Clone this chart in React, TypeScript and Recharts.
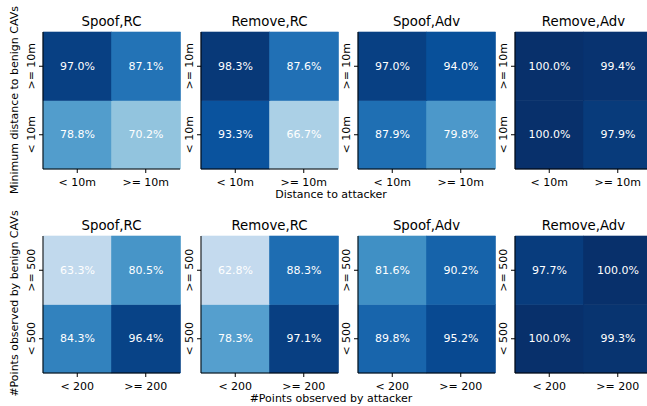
import React from "react";
import { BarChart, Bar, XAxis, YAxis, Cell, LabelList } from "recharts";

// ---------- data ----------
const topTitles = ["Spoof,RC", "Remove,RC", "Spoof,Adv", "Remove,Adv"];
const bottomTitles = ["Spoof,RC", "Remove,RC", "Spoof,Adv", "Remove,Adv"];

const topXTicks = ["< 10m", ">= 10m"];
const topYTicks = ["< 10m", ">= 10m"]; // bottom row first, top row second
const bottomXTicks = ["< 200", ">= 200"];
const bottomYTicks = ["< 500", ">= 500"];

// values per panel: [row "<" (bottom), row ">=" (top)] x [col0, col1]
const topSpoofRC = { low: [78.8, 70.2], high: [97.0, 87.1] };
const topRemoveRC = { low: [93.3, 66.7], high: [98.3, 87.6] };
const topSpoofAdv = { low: [87.9, 79.8], high: [97.0, 94.0] };
const topRemoveAdv = { low: [100.0, 97.9], high: [100.0, 99.4] };

const botSpoofRC = { low: [84.3, 96.4], high: [63.3, 80.5] };
const botRemoveRC = { low: [78.3, 97.1], high: [62.8, 88.3] };
const botSpoofAdv = { low: [89.8, 95.2], high: [81.6, 90.2] };
const botRemoveAdv = { low: [100.0, 99.3], high: [97.7, 100.0] };

const topPanels = [topSpoofRC, topRemoveRC, topSpoofAdv, topRemoveAdv];
const bottomPanels = [botSpoofRC, botRemoveRC, botSpoofAdv, botRemoveAdv];

const topXLabel = "Distance to attacker";
const bottomXLabel = "#Points observed by attacker";
const topYLabel = "Minimum distance to benign CAVs";
const bottomYLabel = "#Points observed by benign CAVs";

// ---------- layout ----------
const FONT = "DejaVu Sans";
const PLOT_LEFTS = [43, 201, 358, 515];
const PLOT_TOPS = [32, 236];
const PW = 137;
const PH = 137;
const ML = 43;
const MT = 32;
const MB = 30;
const MR = 3;
const VMIN = 50;
const VMAX = 100;

const BLUES = ["#f7fbff", "#deebf7", "#c6dbef", "#9ecae1", "#6baed6", "#4292c6", "#2171b5", "#08519c", "#08306b"];
function hexToRgb(h: string) {
  return [parseInt(h.slice(1, 3), 16), parseInt(h.slice(3, 5), 16), parseInt(h.slice(5, 7), 16)];
}
function blues(v: number) {
  let t = (v - VMIN) / (VMAX - VMIN);
  t = Math.max(0, Math.min(1, t));
  const pos = t * (BLUES.length - 1);
  const i = Math.min(BLUES.length - 2, Math.floor(pos));
  const f = pos - i;
  const a = hexToRgb(BLUES[i]);
  const b = hexToRgb(BLUES[i + 1]);
  const c = a.map((x, k) => Math.round(x + (b[k] - x) * f));
  return `rgb(${c[0]},${c[1]},${c[2]})`;
}

const XTick = (props: any) => {
  const { x, y, payload } = props;
  return (
    <text x={x} y={y} dy="0.71em" textAnchor="middle" fontSize={11} fontFamily={FONT} fill="#000">
      {payload.value}
    </text>
  );
};

const makeYTick = (labels: string[]) => (props: any) => {
  const { x, y, payload } = props;
  const idx = payload.value < 1 ? 0 : 1;
  return (
    <text x={x} y={y} transform={`rotate(-90, ${x}, ${y})`} textAnchor="middle" fontSize={11} fontFamily={FONT} fill="#000">
      {labels[idx]}
    </text>
  );
};

const CellLabel = (props: any) => {
  const { x, y, width, height, value } = props;
  return (
    <text
      x={x + width / 2}
      y={y + height / 2}
      textAnchor="middle"
      dominantBaseline="central"
      fontSize={11}
      fontFamily={FONT}
      fill="#fff"
    >
      {Number(value).toFixed(1)}%
    </text>
  );
};

function Panel({ panel, xTicks, yTicks, left, top }: any) {
  const data = xTicks.map((xt: string, i: number) => ({
    x: xt,
    lo: 1,
    hi: 1,
    loV: panel.low[i],
    hiV: panel.high[i],
  }));
  const YT = makeYTick(yTicks);
  return (
    <div style={{ position: "absolute", left: left - ML, top: top - MT }}>
      <BarChart
        width={ML + PW + MR}
        height={MT + PH + MB}
        data={data}
        margin={{ top: MT, right: MR, bottom: 0, left: 0 }}
        barCategoryGap={0}
        barGap={0}
      >
        <XAxis
          dataKey="x"
          type="category"
          height={MB}
          tickSize={4}
          tickMargin={5}
          tick={<XTick />}
          stroke="#000"
          interval={0}
        />
        <XAxis xAxisId="top" orientation="top" dataKey="x" height={0} tick={false} tickLine={false} stroke="#000" />
        <YAxis
          type="number"
          domain={[0, 2]}
          ticks={[0.5, 1.5]}
          width={ML}
          tickSize={4}
          tickMargin={4}
          tick={<YT />}
          stroke="#000"
          interval={0}
        />
        <YAxis yAxisId="right" orientation="right" type="number" domain={[0, 2]} width={0} tick={false} tickLine={false} stroke="#000" />
        <Bar dataKey="lo" stackId="s" isAnimationActive={false}>
          {data.map((d: any, i: number) => (
            <Cell key={i} fill={blues(d.loV)} stroke={blues(d.loV)} strokeWidth={0.6} />
          ))}
          <LabelList dataKey="loV" content={<CellLabel />} />
        </Bar>
        <Bar dataKey="hi" stackId="s" isAnimationActive={false}>
          {data.map((d: any, i: number) => (
            <Cell key={i} fill={blues(d.hiV)} stroke={blues(d.hiV)} strokeWidth={0.6} />
          ))}
          <LabelList dataKey="hiV" content={<CellLabel />} />
        </Bar>
        <XAxis xAxisId="top2" orientation="top" dataKey="x" height={0} tick={false} tickLine={false} stroke="#000" hide />
      </BarChart>
    </div>
  );
}

export default function App() {
  return (
    <div
      style={{
        position: "absolute",
        left: 0,
        top: 0,
        width: 647,
        height: 406,
        overflow: "hidden",
        background: "#fff",
        fontFamily: FONT,
      }}
    >
      {topPanels.map((p, i) => (
        <Panel key={"t" + i} panel={p} xTicks={topXTicks} yTicks={topYTicks} left={PLOT_LEFTS[i]} top={PLOT_TOPS[0]} />
      ))}
      {bottomPanels.map((p, i) => (
        <Panel key={"b" + i} panel={p} xTicks={bottomXTicks} yTicks={bottomYTicks} left={PLOT_LEFTS[i]} top={PLOT_TOPS[1]} />
      ))}
      <svg width={647} height={406} style={{ position: "absolute", left: 0, top: 0, pointerEvents: "none" }}>
        {topTitles.map((t, i) => (
          <text key={"tt" + i} x={PLOT_LEFTS[i] + PW / 2} y={PLOT_TOPS[0] - 6.5} textAnchor="middle" fontSize={13.3} fontFamily={FONT} fill="#000">
            {t}
          </text>
        ))}
        {bottomTitles.map((t, i) => (
          <text key={"bt" + i} x={PLOT_LEFTS[i] + PW / 2} y={PLOT_TOPS[1] - 6.5} textAnchor="middle" fontSize={13.3} fontFamily={FONT} fill="#000">
            {t}
          </text>
        ))}
        <text x={331} y={197.5} textAnchor="middle" fontSize={11} fontFamily={FONT} fill="#000">
          {topXLabel}
        </text>
        <text x={331} y={401.5} textAnchor="middle" fontSize={11} fontFamily={FONT} fill="#000">
          {bottomXLabel}
        </text>
        <text x={18} y={100} transform="rotate(-90, 18, 100)" textAnchor="middle" fontSize={11} fontFamily={FONT} fill="#000">
          {topYLabel}
        </text>
        <text x={18} y={303.5} transform="rotate(-90, 18, 303.5)" textAnchor="middle" fontSize={11} fontFamily={FONT} fill="#000">
          {bottomYLabel}
        </text>
      </svg>
    </div>
  );
}
